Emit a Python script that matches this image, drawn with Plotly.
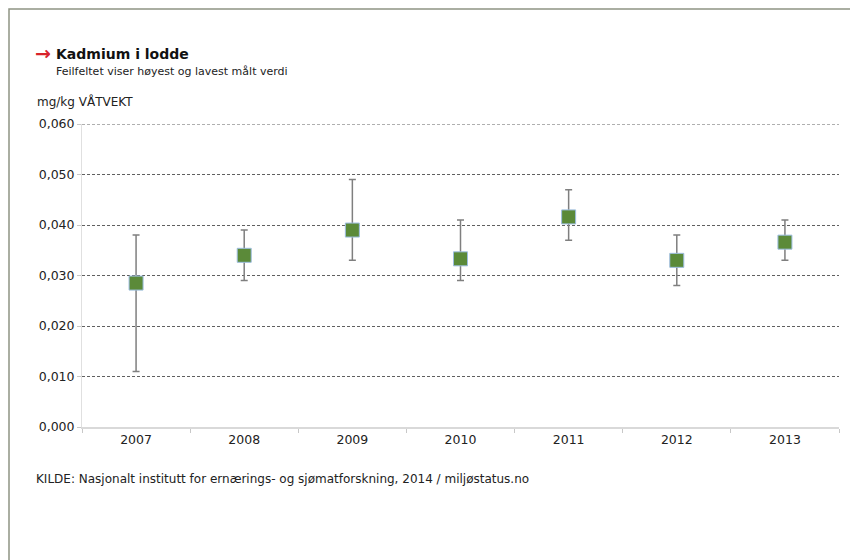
import plotly.graph_objects as go

years = ["2007", "2008", "2009", "2010", "2011", "2012", "2013"]
mean_vals = [0.0285, 0.034, 0.039, 0.0333, 0.0416, 0.033, 0.0366]
high_vals = [0.038, 0.039, 0.049, 0.041, 0.047, 0.038, 0.041]
low_vals = [0.011, 0.029, 0.033, 0.029, 0.037, 0.028, 0.033]
y_ticks = [0.0, 0.01, 0.02, 0.03, 0.04, 0.05, 0.06]

OFF = 8  # page body margin
W, H = 858 - OFF, 560 - OFF
PLOT_L, PLOT_R, PLOT_T, PLOT_B = 82, 839, 124, 427  # in page px
L, R = PLOT_L - OFF, W - (PLOT_R - OFF)
T, B = PLOT_T - OFF, H - (PLOT_B - OFF)
PW, PH = W - L - R, H - T - B

def px(x):
    return (x - OFF - L) / PW

def py(y):
    return (H - B - (y - OFF)) / PH

FONT = "DejaVu Sans, Verdana, sans-serif"
GRID_COLOR = "#606060"
GRID_DASH = "3px,2px"

fig = go.Figure()
fig.add_trace(go.Scatter(
    x=years, y=mean_vals, mode="markers",
    marker=dict(symbol="square", size=14, color="#5b8a39",
                line=dict(color="#9dbde0", width=1)),
    error_y=dict(type="data", symmetric=False,
                 array=[h - m for h, m in zip(high_vals, mean_vals)],
                 arrayminus=[m - l for m, l in zip(mean_vals, low_vals)],
                 color="#7f7f7f", thickness=1.5, width=3.5),
    showlegend=False, hoverinfo="x+y",
))

fig.update_layout(
    width=W, height=H,
    margin=dict(l=L, r=R, t=T, b=B, autoexpand=False),
    paper_bgcolor="white", plot_bgcolor="white",
    separators=", ",
    font=dict(family=FONT, size=12, color="#222"),
    xaxis=dict(type="category", tickson="boundaries", ticks="outside", ticklen=4,
               tickcolor="#c8c8c8", showline=True, linecolor="#d9d9d9", linewidth=2,
               showgrid=False, tickfont=dict(size=12.5, color="#222"), range=[-0.5, 6.5]),
    yaxis=dict(range=[0, y_ticks[-1]], tickvals=y_ticks, tickformat=".3f", ticks="outside",
               ticklen=4, tickcolor="#c8c8c8", showline=True, linecolor="#e0e0e0",
               showgrid=True, gridcolor=GRID_COLOR, griddash=GRID_DASH, gridwidth=1,
               zeroline=False, tickfont=dict(size=12.5, color="#222")),
    annotations=[
        dict(text="<b>→</b>", x=px(33), y=py(53), xref="paper", yref="paper",
             xanchor="left", yanchor="middle", showarrow=False,
             font=dict(size=19, color="#d8232a", family=FONT)),
        dict(text="<b>Kadmium i lodde</b>", x=px(54), y=py(54), xref="paper", yref="paper",
             xanchor="left", yanchor="middle", showarrow=False,
             font=dict(size=14, color="#111", family=FONT)),
        dict(text="Feilfeltet viser høyest og lavest målt verdi", x=px(54), y=py(71),
             xref="paper", yref="paper", xanchor="left", yanchor="middle",
             showarrow=False, font=dict(size=11, color="#222", family=FONT)),
        dict(text="mg/kg VÅTVEKT", x=px(35), y=py(101), xref="paper", yref="paper",
             xanchor="left", yanchor="middle", showarrow=False,
             font=dict(size=12, color="#222", family=FONT)),
        dict(text="KILDE: Nasjonalt institutt for ernærings- og sjømatforskning, 2014 / miljøstatus.no",
             x=px(34), y=py(479), xref="paper", yref="paper", xanchor="left", yanchor="middle",
             showarrow=False, font=dict(size=12, color="#222", family=FONT)),
    ],
    shapes=[
        dict(type="path", xref="paper", yref="paper",
             path=f"M {px(9)},{py(570)} L {px(9)},{py(9)} L {px(870)},{py(9)}",
             line=dict(color="#8f9484", width=1.5)),
        # top gridline (plotly omits the gridline at the plot edge)
        dict(type="line", xref="paper", yref="y", x0=0, x1=1,
             y0=y_ticks[-1], y1=y_ticks[-1],
             line=dict(color=GRID_COLOR, width=1, dash=GRID_DASH), layer="below"),
    ],
)

fig.write_html("out.html")
